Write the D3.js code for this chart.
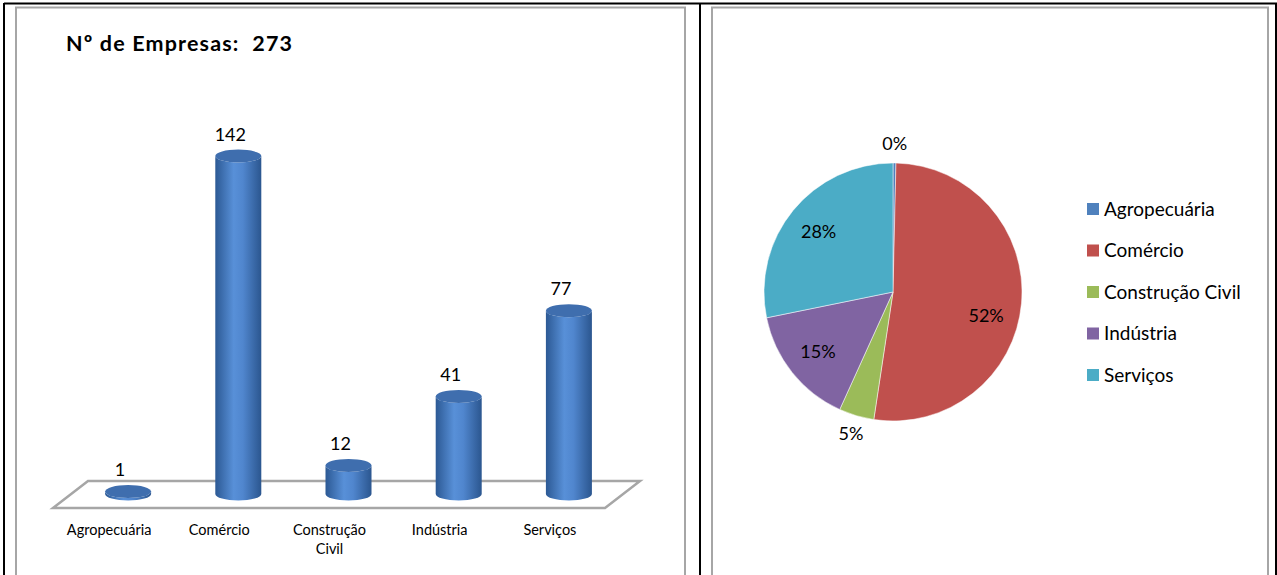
<!DOCTYPE html>
<html>
<head>
<meta charset="utf-8">
<script src="https://cdn.jsdelivr.net/npm/d3@7"></script>
<style>
  body { margin: 0; background: #fff; }
  text { font-family: Lato, "Open Sans", sans-serif; fill: #000; }
</style>
</head>
<body>
<div id="target"></div>
<script>
// data
const categories = ["Agropecuária", "Comércio", "Construção Civil", "Indústria", "Serviços"];
const values = [1, 142, 12, 41, 77];
const pctLabels = ["0%", "52%", "5%", "15%", "28%"];
const colors = ["#4F81BD", "#C0504D", "#9BBB59", "#8064A2", "#4BACC6"];
const title = "Nº de Empresas:  273";

const W = 1277, H = 575;
const svg = d3.select("#target").append("svg")
    .attr("width", W)
    .attr("height", H);

// table frame
const frame = svg.append("g");
frame.append("line").attr("x1", 4).attr("x2", W).attr("y1", 3.5).attr("y2", 3.5).attr("stroke", "#000").attr("stroke-width", 2);
[4, 700, 1276].forEach(function(x) {
  frame.append("line").attr("x1", x).attr("x2", x).attr("y1", 3).attr("y2", H).attr("stroke", "#000").attr("stroke-width", 2);
});
[[16, 685], [712, 1268]].forEach(function(b) {
  frame.append("path")
      .attr("d", "M" + b[0] + "," + H + "V7.5H" + b[1] + "V" + H)
      .attr("fill", "none").attr("stroke", "#a6a6a6").attr("stroke-width", 2);
});

// ---------- bar chart (3D cylinders) ----------
const left = svg.append("g");

left.append("text")
    .attr("x", 66).attr("y", 51)
    .attr("font-size", 21.5).attr("font-weight", "bold")
    .attr("textLength", 226).attr("lengthAdjust", "spacing")
    .style("white-space", "pre")
    .text(title);

var x = d3.scaleBand().domain(categories).range([73, 624]);
var y = d3.scaleLinear().domain([0, d3.max(values)]).range([494, 156]);
var bw = 46, ry = 6.5;

var defs = svg.append("defs");
var grad = defs.append("linearGradient").attr("id", "cyl").attr("x1", "0%").attr("x2", "100%");
grad.append("stop").attr("offset", "0%").attr("stop-color", "#2c5994");
grad.append("stop").attr("offset", "40%").attr("stop-color", "#5890d8");
grad.append("stop").attr("offset", "60%").attr("stop-color", "#5086ce");
grad.append("stop").attr("offset", "100%").attr("stop-color", "#2b568f");

// floor
var x0 = x.range()[0], x1 = x.range()[1], yb = y(0);
left.append("path")
    .attr("d", "M" + (x0 - 20) + "," + (yb + 14) + "L" + (x0 + 15) + "," + (yb - 13) +
               "L" + (x1 + 16) + "," + (yb - 13) + "L" + (x1 - 19) + "," + (yb + 14) + "Z")
    .attr("fill", "#fff").attr("stroke", "#a6a6a6").attr("stroke-width", 2.5)
    .attr("stroke-linejoin", "miter");

var data = categories.map(function(c, i) { return {label: c, value: values[i]}; });
var cx = function(d) { return x(d.label) + x.bandwidth() / 2; };

var bars = left.selectAll(".bar").data(data).enter().append("g").attr("class", "bar");

bars.append("path")
    .attr("d", function(d) {
      var l = cx(d) - bw / 2, r = cx(d) + bw / 2, t = y(d.value);
      return "M" + l + "," + t + "V" + yb +
             "A" + (bw / 2) + "," + ry + " 0 0 0 " + r + "," + yb +
             "V" + t +
             "A" + (bw / 2) + "," + ry + " 0 0 1 " + l + "," + t + "Z";
    })
    .attr("fill", "url(#cyl)");

bars.append("ellipse")
    .attr("cx", cx)
    .attr("cy", function(d) { return y(d.value); })
    .attr("rx", bw / 2).attr("ry", ry)
    .attr("fill", "#3f6eae");

// value labels sit a little left of the bar (3D perspective)
bars.append("text")
    .attr("x", function(d) { return cx(d) - 8; })
    .attr("y", function(d) { return y(d.value) - ry - 9; })
    .attr("text-anchor", "middle")
    .attr("font-size", 18)
    .text(function(d) { return d.value; });

// category labels sit at the front edge of the floor
bars.append("text")
    .attr("y", 535)
    .attr("text-anchor", "middle")
    .attr("font-size", 14.5)
    .each(function(d) {
      var words = d.label === "Construção Civil" ? ["Construção", "Civil"] : [d.label];
      var t = d3.select(this);
      words.forEach(function(w, i) {
        t.append("tspan").attr("x", cx(d) - 19).attr("dy", i ? 19 : 0).text(w);
      });
    });

// ---------- pie chart ----------
var pcx = 893, pcy = 292, R = 129;
var total = d3.sum(values);
var pie = d3.pie().sort(null).value(function(d) { return d.value; });
var arc = d3.arc().innerRadius(0).outerRadius(R);
var arcs = pie(data);

var pg = svg.append("g").attr("transform", "translate(" + pcx + "," + pcy + ")");
pg.selectAll(".slice").data(arcs).enter().append("path")
    .attr("class", "slice")
    .attr("d", arc)
    .attr("fill", function(d, i) { return colors[i]; })
    .attr("stroke", "#fff").attr("stroke-width", 0.5);

pg.selectAll(".plabel").data(arcs).enter().append("text")
    .attr("class", "plabel")
    .attr("transform", function(d) {
      var a = (d.startAngle + d.endAngle) / 2;
      var small = (d.value / total) < 0.06;
      var r = small ? 148 : 96;
      if (d.index === 1) a += 0.16;
      return "translate(" + (r * Math.sin(a)) + "," + (-r * Math.cos(a)) + ")";
    })
    .attr("text-anchor", "middle")
    .attr("dy", "0.35em")
    .attr("font-size", 18)
    .text(function(d, i) { return pctLabels[i]; });

// legend
var lg = svg.append("g").attr("transform", "translate(1087,209)");
var li = lg.selectAll(".leg").data(categories).enter().append("g")
    .attr("class", "leg")
    .attr("transform", function(d, i) { return "translate(0," + (i * 41.5) + ")"; });
li.append("rect").attr("x", 0).attr("y", -6).attr("width", 12).attr("height", 12)
    .attr("fill", function(d, i) { return colors[i]; });
li.append("text").attr("x", 17).attr("dy", "0.35em").attr("font-size", 19)
    .text(function(d) { return d; });
</script>
</body>
</html>
